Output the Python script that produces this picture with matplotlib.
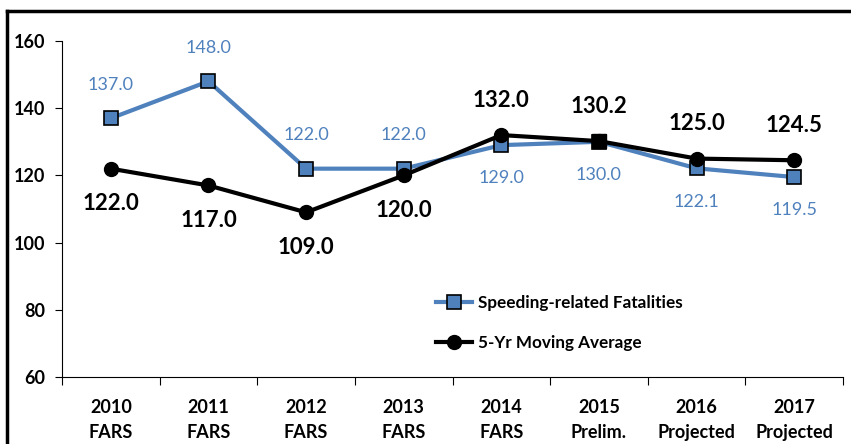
import matplotlib.pyplot as plt
from matplotlib.lines import Line2D

plt.rcParams['font.family'] = ['Lato', 'DejaVu Sans']

# Datos
categorias = ['2010\nFARS', '2011\nFARS', '2012\nFARS', '2013\nFARS', '2014\nFARS',
              '2015\nPrelim.', '2016\nProjected', '2017\nProjected']
speeding = [137.0, 148.0, 122.0, 122.0, 129.0, 130.0, 122.1, 119.5]
media5 = [122.0, 117.0, 109.0, 120.0, 132.0, 130.2, 125.0, 124.5]
# posicion de las etiquetas: 1 arriba, -1 abajo
pos_speed = [1, 1, 1, 1, -1, -1, -1, -1]
pos_media = [-1, -1, -1, -1, 1, 1, 1, 1]

azul = '#4F81BD'
azul_txt = '#4F81BD'

fig = plt.figure(figsize=(8.51, 4.44), dpi=100)
ax = fig.add_axes([0.0729, 0.1509, 0.9177, 0.7568])

x = list(range(len(categorias)))
ax.plot(x, speeding, color=azul, lw=3, marker='s', ms=10, mfc=azul, mec='black',
        mew=1.2, label='Speeding-related Fatalities', zorder=3)
ax.plot(x, media5, color='black', lw=3, marker='o', ms=10, mfc='black', mec='black',
        label='5-Yr Moving Average', zorder=4)
# el punto de 2015 aparece cuadrado en el original
ax.plot(x[5], media5[5], marker='s', ms=10, color='black', zorder=5)

for i in x:
    ax.annotate('%.1f' % speeding[i], (i, speeding[i]), xytext=(0, 24 * pos_speed[i]),
                textcoords='offset points', ha='center', va='center',
                color=azul_txt, fontsize=13)
    ax.annotate('%.1f' % media5[i], (i, media5[i]), xytext=(0, 25 * pos_media[i]),
                textcoords='offset points', ha='center', va='center',
                color='black', fontsize=16, fontweight='bold')

ax.set_xlim(-0.5, len(categorias) - 0.5)
ax.set_ylim(60, 160)
ax.set_yticks([60, 80, 100, 120, 140, 160])
ax.set_xticks([i - 0.5 for i in range(len(categorias) + 1)], minor=False)
ax.set_xticklabels([])
ax.set_xticks(x, minor=True)
ax.set_xticklabels(categorias, minor=True, fontsize=13, fontweight='bold', linespacing=1.55)
ax.tick_params(axis='x', which='minor', length=0, pad=16)
ax.tick_params(axis='x', which='major', length=6, direction='out')
ax.tick_params(axis='y', length=5, labelsize=13, pad=7)
for lab in ax.get_yticklabels():
    lab.set_fontweight('bold')

ax.spines['top'].set_visible(False)
ax.spines['right'].set_visible(False)

leg = ax.legend(loc='center left', bbox_to_anchor=(0.479, 0.162), frameon=False,
                fontsize=12.3, handlelength=2.1, labelspacing=1.4, handletextpad=0.35,
                borderpad=0, borderaxespad=0)
for t in leg.get_texts():
    t.set_fontweight('bold')

# marco exterior
fig.add_artist(Line2D([7 / 851, 1], [1 - 11 / 444, 1 - 11 / 444], color='black', lw=2.5,
                      transform=fig.transFigure))
fig.add_artist(Line2D([7 / 851, 7 / 851], [0, 1 - 11 / 444], color='black', lw=2.5,
                      transform=fig.transFigure))

fig.savefig('out.png', dpi=100)
